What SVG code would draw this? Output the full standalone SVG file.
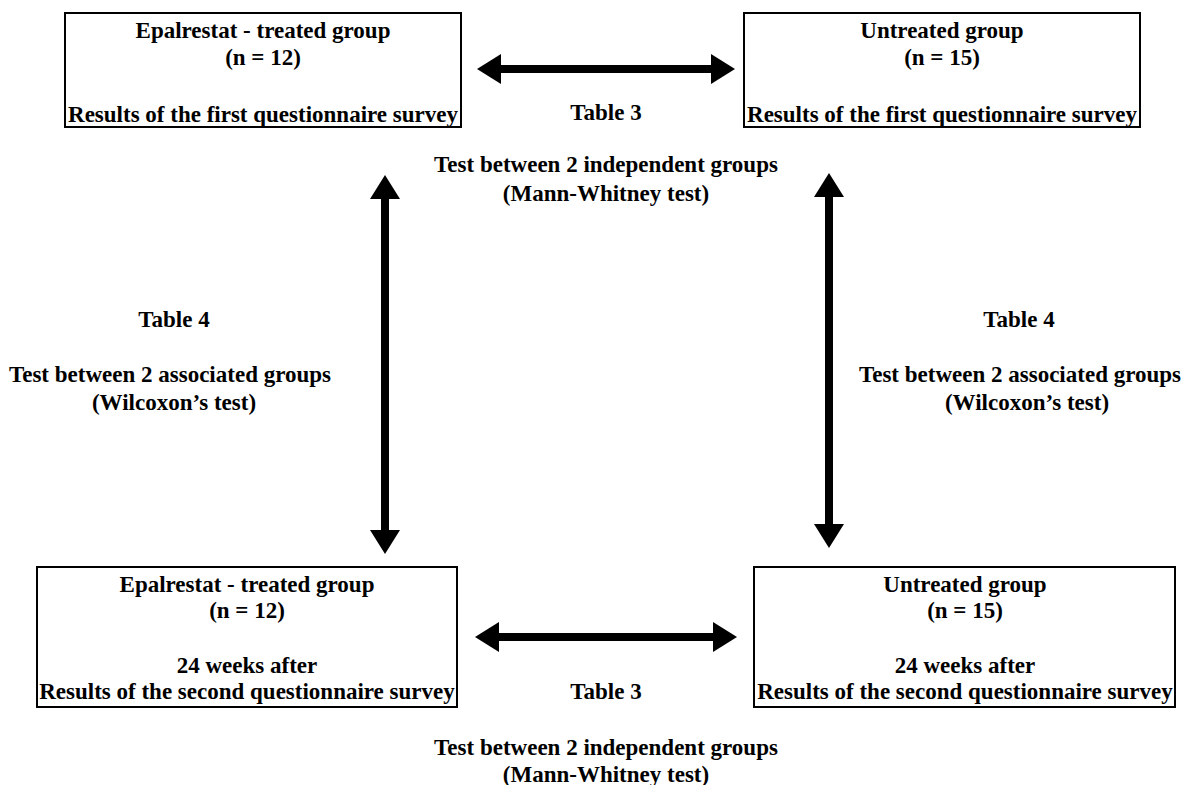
<svg xmlns="http://www.w3.org/2000/svg" width="1182" height="785" viewBox="0 0 1182 785">
  <defs>
    <style>
      .box { fill: #ffffff; stroke: #000000; stroke-width: 2; }
      .t { font-family: "Liberation Serif", "Times New Roman", serif; font-weight: bold; font-size: 23px; fill: #000000; text-anchor: middle; }
      .conn { stroke: #000000; stroke-width: 8; fill: none; marker-start: url(#head); marker-end: url(#head); }
    </style>
    <marker id="head" markerUnits="userSpaceOnUse" markerWidth="24" markerHeight="30" viewBox="0 0 24 30" refX="9" refY="15" orient="auto-start-reverse">
      <path d="M0,0 L24,15 L0,30 Z" fill="#000000"/>
    </marker>
  </defs>
  <rect width="1182" height="785" fill="#ffffff"/>

  <g id="connectors">
    <line class="conn" x1="492" y1="69" x2="720" y2="69"/>
    <line class="conn" x1="490" y1="637" x2="722" y2="637"/>
    <line class="conn" x1="385" y1="190" x2="385" y2="539"/>
    <line class="conn" x1="829" y1="188" x2="829" y2="533"/>
  </g>

  <g id="node-treated-first">
    <rect class="box" x="65" y="13" width="396" height="114"/>
    <text class="t" x="263" y="38">Epalrestat - treated group</text>
    <text class="t" x="263" y="65">(n = 12)</text>
    <text class="t" x="263" y="122">Results of the first questionnaire survey</text>
  </g>

  <g id="node-untreated-first">
    <rect class="box" x="744" y="13" width="396" height="114"/>
    <text class="t" x="942" y="38">Untreated group</text>
    <text class="t" x="942" y="65">(n = 15)</text>
    <text class="t" x="942" y="122">Results of the first questionnaire survey</text>
  </g>

  <g id="node-treated-second">
    <rect class="box" x="37" y="567" width="420" height="140"/>
    <text class="t" x="247" y="592">Epalrestat - treated group</text>
    <text class="t" x="247" y="618">(n = 12)</text>
    <text class="t" x="247" y="673">24 weeks after</text>
    <text class="t" x="247" y="699">Results of the second questionnaire survey</text>
  </g>

  <g id="node-untreated-second">
    <rect class="box" x="754" y="567" width="421" height="140"/>
    <text class="t" x="965" y="592">Untreated group</text>
    <text class="t" x="965" y="618">(n = 15)</text>
    <text class="t" x="965" y="673">24 weeks after</text>
    <text class="t" x="965" y="699">Results of the second questionnaire survey</text>
  </g>

  <g id="label-top">
    <text class="t" x="606" y="120">Table 3</text>
    <text class="t" x="606" y="172">Test between 2 independent groups</text>
    <text class="t" x="606" y="201">(Mann-Whitney test)</text>
  </g>

  <g id="label-left">
    <text class="t" x="174" y="327">Table 4</text>
    <text class="t" x="170" y="382">Test between 2 associated groups</text>
    <text class="t" x="174" y="410">(Wilcoxon’s test)</text>
  </g>

  <g id="label-right">
    <text class="t" x="1019" y="327">Table 4</text>
    <text class="t" x="1020" y="382">Test between 2 associated groups</text>
    <text class="t" x="1027" y="410">(Wilcoxon’s test)</text>
  </g>

  <g id="label-bottom">
    <text class="t" x="606" y="699">Table 3</text>
    <text class="t" x="606" y="755">Test between 2 independent groups</text>
    <text class="t" x="606" y="782">(Mann-Whitney test)</text>
  </g>
</svg>
